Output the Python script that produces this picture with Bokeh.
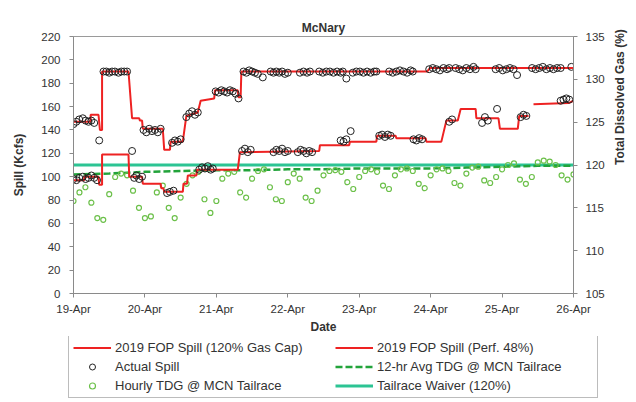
import numpy as np
import pandas as pd
from bokeh.plotting import figure
from bokeh.models import (Range1d, LinearAxis, FixedTicker, DatetimeTickFormatter,
                          Legend, LegendItem)
from bokeh.embed import file_html
from bokeh.resources import INLINE

# ---------------- data (time in days after 19-Apr-2019 00:00) ----------------
date_labels = ["19-Apr", "20-Apr", "21-Apr", "22-Apr", "23-Apr", "24-Apr", "25-Apr", "26-Apr"]
spill_ticks = [0, 20, 40, 60, 80, 100, 120, 140, 160, 180, 200, 220]
tdg_ticks = [105, 110, 115, 120, 125, 130, 135]

# 2019 FOP Spill (120% Gas Cap) - step line vertices
cap_t = [0.00, 0.24, 0.24, 0.35, 0.37, 0.40, 0.40, 0.77, 0.82, 0.92, 0.93, 0.96, 0.97,
         1.25, 1.27, 1.35, 1.36, 1.53, 1.58, 1.74, 1.78, 1.97, 1.98, 2.30, 2.31, 2.34,
         2.35, 4.95, 4.99, 7.00]
cap_v = [147, 147, 153, 153, 140, 140, 190, 190, 150, 150, 148, 148, 141,
         141, 123, 123, 130, 130, 152, 155, 165, 167, 174, 174, 168, 168,
         190, 190, 193, 193]

# 2019 FOP Spill (Perf. 48%) - step line vertices
perf_t = [0.00, 0.15, 0.15, 0.35, 0.36, 0.40, 0.40, 0.77, 0.78, 0.96, 0.97, 1.22, 1.23,
          1.26, 1.27, 1.53, 1.54, 1.59, 1.60, 1.72, 1.73, 2.30, 2.33, 3.44, 3.45, 3.86,
          3.87, 4.24, 4.25, 4.51, 4.52, 4.93, 4.94, 5.15, 5.22, 5.38, 5.42, 5.63, 5.64,
          5.95, 5.97, 6.22, 6.24, 6.37, 6.40, 6.44, 6.93, 7.00]
perf_v = [97, 97, 100, 100, 93, 93, 119, 119, 100, 100, 94, 94, 90,
          90, 87, 87, 94, 94, 101, 101, 106, 106, 121, 122, 127, 127,
          130, 130, 135, 135, 133, 133, 130, 130, 148, 148, 158, 158, 150,
          150, 141, 141, 152, 152, np.nan, 162, 163, 165]

# Actual Spill (hourly observations)
actual_t = [0.00, 0.04, 0.08, 0.13, 0.17, 0.21, 0.25, 0.29, 0.36,
            0.42, 0.46, 0.50, 0.54, 0.58, 0.63, 0.67, 0.71, 0.75,
            0.00, 0.04, 0.08, 0.13, 0.17, 0.21, 0.25, 0.29, 0.33,
            0.82, 0.85, 0.88, 0.92, 0.96,
            0.98, 1.02, 1.06, 1.10, 1.14, 1.18, 1.22,
            1.38, 1.42, 1.46, 1.50, 1.31, 1.35, 1.40,
            1.58, 1.62, 1.66, 1.70, 1.74,
            1.76, 1.80, 1.84, 1.88, 1.92, 1.95,
            1.99, 2.03, 2.07, 2.11, 2.15, 2.19, 2.23, 2.27, 2.31,
            2.36, 2.40, 2.44, 2.48,
            2.38, 2.42, 2.46, 2.50, 2.54, 2.58, 2.65,
            2.80, 2.84, 2.88, 2.92, 2.96, 3.00,
            2.76, 2.80, 2.84, 2.88, 2.92, 2.96, 3.00,
            3.14, 3.18, 3.22, 3.26, 3.30, 3.34,
            3.17, 3.22, 3.27, 3.31,
            3.44, 3.49, 3.54, 3.59, 3.64, 3.69, 3.74, 3.77, 3.82,
            3.91, 3.96, 4.01, 4.06, 4.11, 4.16, 4.21, 4.24,
            4.42, 4.47, 4.52, 4.57, 4.62, 4.67, 4.72, 4.75,
            4.98, 5.03, 5.08, 5.13, 5.18, 5.23, 5.26,
            5.35, 5.40, 5.45, 5.50, 5.55, 5.60, 5.63,
            5.91, 5.96, 6.01, 6.06, 6.11, 6.16, 6.21,
            6.42, 6.47, 6.52, 6.57, 6.62, 6.67, 6.72, 6.77, 6.82, 6.97,
            3.74, 3.78, 3.82, 3.88,
            4.28, 4.32, 4.36, 4.40, 4.44,
            4.76, 4.80, 4.84, 4.88,
            5.26, 5.30,
            5.72, 5.76, 5.80, 5.93,
            6.26, 6.30, 6.34,
            6.82, 6.86, 6.90, 6.94]
actual_v = [145, 147, 149, 150, 148, 147, 148, 146, 131,
            190, 190, 189, 190, 190, 189, 190, 190, 190,
            98, 97, 99, 100, 98, 99, 101, 99, 97,
            122, 99, 101, 98, 100,
            140, 138, 141, 139, 140, 138, 141,
            129, 131, 130, 132, 86, 87, 88,
            151, 154, 156, 153, 155,
            106, 108, 107, 109, 106, 107,
            173, 172, 174, 173, 172, 174, 173, 171, 167,
            122, 124, 121, 123,
            190, 189, 191, 190, 189, 188, 185,
            121, 123, 122, 124, 121, 122,
            190, 189, 190, 189, 190, 188, 189,
            121, 123, 122, 120, 122, 121,
            189, 190, 189, 190,
            190, 189, 190, 190, 189, 190, 189, 190, 184,
            189, 190, 190, 189, 190, 189, 190, 190,
            190, 189, 190, 191, 190, 189, 191, 190,
            192, 193, 192, 191, 193, 192, 193,
            193, 192, 191, 193, 192, 194, 192,
            192, 193, 191, 192, 193, 192, 187,
            193, 192, 193, 194, 192, 193, 192, 193, 193, 194,
            131, 130, 132, 139,
            135, 136, 134, 136, 135,
            132, 131, 133, 132,
            147, 149,
            146, 151, 148, 158,
            151, 153, 152,
            165, 166, 167, 166]

# Hourly TDG @ MCN Tailrace (%), one reading every 2 hours
tdg_hours = list(range(0, 170, 2))
tdg_v = [115.8, 116.8, 117.4, 115.6, 113.8, 113.6, 116.6, 118.6, 119.0, 118.8, 117.0, 115.0,
         113.8, 114.0, 116.8, 117.6, 115.0, 113.8, 116.2, 117.8, 118.8, 119.2, 116.0, 114.4,
         115.8, 118.4, 119.0, 119.2, 116.8, 116.2, 118.4, 119.3, 119.5, 117.4, 116.0, 115.8,
         118.0, 119.0, 118.4, 116.2, 115.8, 117.0, 118.8, 119.3, 119.4, 119.2, 118.0, 117.2,
         118.6, 119.3, 119.5, 119.2, 117.6, 117.2, 118.8, 119.5, 119.6, 119.3, 117.8, 117.3,
         118.8, 119.5, 119.6, 119.3, 117.9, 117.6, 119.0, 119.7, 119.8, 118.2, 117.9, 118.6,
         119.5, 120.0, 120.2, 118.3, 117.8, 118.6, 120.3, 120.5, 120.4, 120.0, 118.8, 118.3,
         118.9]

# 12-hr Avg TDG @ MCN Tailrace (%)
avg_t = [0.0, 0.5, 1.0, 1.5, 2.0, 2.5, 3.0, 3.5, 4.0, 4.5, 5.0, 5.5, 6.0, 6.5, 7.0]
avg_v = [118.9, 119.0, 119.2, 119.3, 119.4, 119.4, 119.5, 119.5, 119.6, 119.6, 119.6,
         119.7, 119.8, 119.9, 119.9]

# Tailrace Waiver (%)
waiver_t = [0.0, 7.0]
waiver_v = [120, 120]

# ---------------- helpers ----------------
BASE = pd.Timestamp("2019-04-19")


def to_dt(days):
    return BASE + pd.to_timedelta(np.asarray(days, dtype=float), unit="D")


RED = "#ee2222"
GREEN = "#22a33a"
LGREEN = "#6cc04a"
TEAL = "#2cc493"
FONT = "Liberation Sans"
TXT = "#333333"

p = figure(width=636, height=336, x_axis_type="datetime", output_backend="svg",
           toolbar_location=None,
           x_range=Range1d(to_dt([0])[0], to_dt([7])[0]), y_range=Range1d(0, 220),
           min_border_left=73, min_border_right=61, min_border_top=36, min_border_bottom=38)
p.extra_y_ranges = {"tdg": Range1d(105, 135)}

p.title.text = "McNary"
p.title.align = "center"
p.title.text_font = FONT
p.title.text_font_size = "12px"
p.title.text_font_style = "bold"
p.title.text_color = TXT
p.title.standoff = 3

p.xgrid.visible = False
p.ygrid.visible = False
p.outline_line_color = "#9a9a9a"
p.background_fill_color = "white"

# line / marker styles shared with the legend strip
sty_waiver = dict(line_color=TEAL, line_width=3)
sty_avg = dict(line_color=GREEN, line_width=2.5, line_dash="7 3")
sty_hourly = dict(marker="circle", size=5, fill_color=None, line_color=LGREEN, line_width=1.2)
sty_spill = dict(line_color=RED, line_width=2)
sty_actual = dict(marker="circle", size=7, fill_color=None, line_color="#222222", line_width=1)

tdg_days = np.array(tdg_hours) / 24.0

# renderers
p.line(to_dt(waiver_t), waiver_v, y_range_name="tdg", **sty_waiver)
p.line(to_dt(avg_t), avg_v, y_range_name="tdg", **sty_avg)
p.scatter(to_dt(tdg_days), tdg_v, y_range_name="tdg", **sty_hourly)
p.line(to_dt(cap_t), cap_v, **sty_spill)
p.line(to_dt(perf_t), perf_v, **sty_spill)
p.scatter(to_dt(actual_t), actual_v, **sty_actual)

# axes
ms_ticks = [int(t.value // 10**6) for t in to_dt(range(8))]
xa = p.xaxis[0]
xa.ticker = FixedTicker(ticks=ms_ticks)
fmt = "%d-%b"
xa.formatter = DatetimeTickFormatter(microseconds=fmt, milliseconds=fmt, seconds=fmt,
                                     minsec=fmt, minutes=fmt, hourmin=fmt, hours=fmt,
                                     days=fmt, months=fmt, years=fmt)
xa.axis_label = "Date"

ya = p.yaxis[0]
ya.ticker = FixedTicker(ticks=spill_ticks)
ya.axis_label = "Spill (Kcfs)"

ra = LinearAxis(y_range_name="tdg", ticker=FixedTicker(ticks=tdg_ticks),
                axis_label="Total Dissolved Gas (%)")
p.add_layout(ra, "right")

for ax in [xa, ya, ra]:
    ax.axis_line_color = "#8a8a8a"
    ax.major_tick_line_color = "#8a8a8a"
    ax.minor_tick_line_color = None
    ax.major_tick_out = 4
    ax.major_tick_in = 0
    ax.major_label_text_font = FONT
    ax.major_label_text_font_size = "11.5px"
    ax.major_label_text_color = TXT
    ax.axis_label_text_font = FONT
    ax.axis_label_text_font_size = "12px"
    ax.axis_label_text_font_style = "bold"
    ax.axis_label_text_color = TXT
xa.major_label_standoff = 5
xa.axis_label_standoff = 2
ya.major_label_standoff = 9
ya.axis_label_standoff = 12
ra.major_label_standoff = 8
ra.axis_label_standoff = 12
ra.axis_label_orientation = 1.5708
ra.axis_label_text_align = "center"

# ---------------- legend strip under the chart (separate root) ----------------
# The same series are drawn again here, but this strip's ranges lie outside the data,
# so only the legend of the strip is visible.
lg = figure(width=636, height=66, output_backend="svg", toolbar_location=None,
            x_range=Range1d(-2, -1), y_range=Range1d(-2, -1),
            min_border_left=0, min_border_right=0, min_border_top=0, min_border_bottom=0,
            x_axis_location=None, y_axis_location=None)
lg.xgrid.visible = False
lg.ygrid.visible = False
lg.outline_line_color = None

k_cap = lg.line(cap_t, cap_v, **sty_spill)
k_actual = lg.scatter(actual_t, actual_v, **sty_actual)
k_hourly = lg.scatter(tdg_days, tdg_v, **sty_hourly)
k_perf = lg.line(perf_t, perf_v, **sty_spill)
k_avg = lg.line(avg_t, avg_v, **sty_avg)
k_waiver = lg.line(waiver_t, waiver_v, **sty_waiver)

legend = Legend(items=[
    LegendItem(label="2019 FOP Spill (120% Gas Cap)", renderers=[k_cap]),
    LegendItem(label="Actual Spill", renderers=[k_actual]),
    LegendItem(label="Hourly TDG @ MCN Tailrace", renderers=[k_hourly]),
    LegendItem(label="2019 FOP Spill (Perf. 48%)", renderers=[k_perf]),
    LegendItem(label="12-hr Avg TDG @ MCN Tailrace", renderers=[k_avg]),
    LegendItem(label="Tailrace Waiver (120%)", renderers=[k_waiver]),
], ncols=2, orientation="vertical", location=(68, 4))
legend.label_text_font = FONT
legend.label_text_font_size = "13px"
legend.label_text_color = TXT
legend.glyph_width = 38
legend.glyph_height = 15
legend.label_height = 15
legend.label_width = 216
legend.label_standoff = 4
legend.spacing = 4
legend.padding = 4
legend.margin = 0
legend.border_line_color = "#7a7a7a"
legend.border_line_width = 1
legend.background_fill_alpha = 1
lg.add_layout(legend, "center")

open("out.html", "w").write(file_html([p, lg], INLINE))
